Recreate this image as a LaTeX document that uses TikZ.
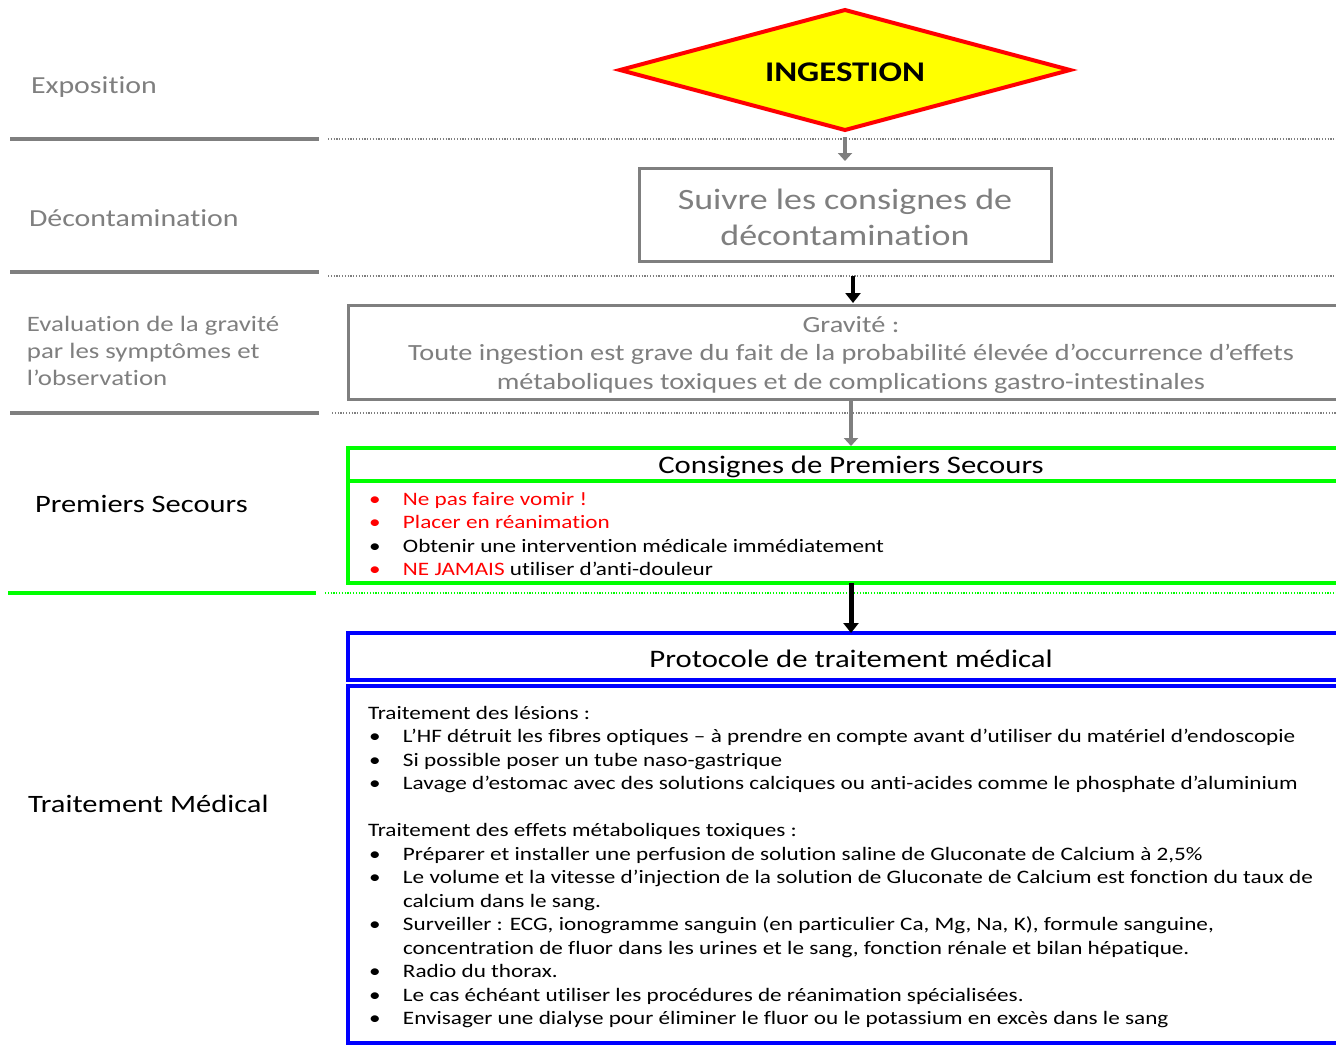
\documentclass[tikz,border=0pt]{standalone}
\usepackage{fontspec}
\setmainfont{Carlito}[FakeStretch=1.22, Ligatures={TeX,NoCommon}]
\usetikzlibrary{shapes.geometric,arrows.meta}
\definecolor{lgray}{RGB}{127,127,127}
\definecolor{lgreen}{RGB}{0,255,0}
\definecolor{lblue}{RGB}{0,0,255}
\definecolor{lred}{RGB}{255,0,0}
\definecolor{lyellow}{RGB}{255,255,0}
\newcommand{\bul}{\makebox[35pt][l]{\hspace{1pt}•}}
\newcommand{\cont}{\hspace*{35pt}}
\tikzset{
  x=1pt, y=-1pt,
  every node/.style={inner sep=0pt, outer sep=0pt, font=\fontsize{19}{23.5}\selectfont},
  sepline/.style={line width=4pt, lgray},
  dotline/.style={line width=1.1pt, lgray, dash pattern=on 1.2pt off 1.6pt},
  graybox/.style={draw=lgray, line width=3pt, rectangle},
  greenbox/.style={draw=lgreen, line width=3.5pt, rectangle},
  bluebox/.style={draw=lblue, line width=3.5pt, rectangle},
  rowlabel/.style={anchor=west, align=left},
  grayarrow/.style={lgray, line width=4pt, -{Triangle[width=14pt,length=8pt]}},
  blackarrow/.style={black, line width=4pt, -{Triangle[width=15pt,length=10pt]}},
}
\begin{document}
\begin{tikzpicture}
\useasboundingbox (0,0) rectangle (1336,1053);
\clip (0,0) rectangle (1336,1053);
\fill[white] (0,0) rectangle (1336,1053);

% row separators, left part solid, right part dotted
\draw[sepline] (10,139) -- (319,139);
\draw[sepline] (10,272) -- (319,272);
\draw[sepline] (10,413) -- (319,413);
\draw[sepline, lgreen] (8,593) -- (316,593);
\draw[dotline] (328,139) -- (1336,139);
\draw[dotline] (328,276) -- (1336,276);
\draw[dotline] (332,413) -- (1336,413);
\draw[dotline, lgreen] (325,593) -- (1336,593);

% row labels
\node[rowlabel, lgray, font=\fontsize{24.5}{27}\selectfont] (lexpo) at (31,87) {Exposition};
\node[rowlabel, lgray, font=\fontsize{24.5}{27}\selectfont] (ldeco) at (29,218) {Décontamination};
\node[rowlabel, lgray, font=\fontsize{22}{27}\selectfont] (leval) at (27,351) {Evaluation de la gravité\\par les symptômes et\\l’observation};
\node[rowlabel, font=\fontsize{25}{29}\selectfont] (lps) at (35,504) {Premiers Secours};
\node[rowlabel, font=\fontsize{25}{29}\selectfont] (ltm) at (28,804) {Traitement Médical};

% exposure
\node[diamond, aspect=3.75, minimum width=450pt, minimum height=120pt, draw=lred, fill=lyellow, line width=4pt] (ing) at (845,70) {};
\node[font=\fontsize{28.5}{32}\bfseries] (ingt) at (845,72) {INGESTION};

% decontamination
\node[graybox, minimum width=412pt, minimum height=93pt] (box1) at (845,214.5) {};
\node[lgray, align=center, font=\fontsize{29.5}{36}\selectfont] (box1t) at (845,217) {Suivre les consignes de\\décontamination};

% severity
\node[graybox, minimum width=1006pt, minimum height=94pt] (grav) at (851,352) {};
\node[lgray, align=center, font=\fontsize{23.2}{28.5}\selectfont] (gravt) at (851,355) {Gravité :\\Toute ingestion est grave du fait de la probabilité élevée d’occurrence d’effets\\métaboliques toxiques et de complications gastro-intestinales};

% first aid
\node[greenbox, minimum width=1006pt, minimum height=33pt] (psh) at (851,464.5) {};
\node[font=\fontsize{25.2}{29}\selectfont] (psht) at (851,467) {Consignes de Premiers Secours};
\node[greenbox, minimum width=1006pt, minimum height=102pt] (psb) at (851,532) {};
\node[anchor=north west, align=left] (pslist) at (368,492) {%
\textcolor{lred}{\bul Ne pas faire vomir !}\\
\textcolor{lred}{\bul Placer en réanimation}\\
\bul Obtenir une intervention médicale immédiatement\\
\textcolor{lred}{\bul NE JAMAIS} utiliser d’anti-douleur};

% medical treatment
\node[bluebox, minimum width=1006pt, minimum height=47pt] (tmh) at (851,656.5) {};
\node[font=\fontsize{25.2}{29}\selectfont] (tmht) at (851,659) {Protocole de traitement médical};
\node[bluebox, minimum width=1006pt, minimum height=357pt] (tmb) at (851,864.5) {};
\node[anchor=north west, align=left] (tmlist) at (368,706) {%
Traitement des lésions :\\
\bul L’HF détruit les fibres optiques – à prendre en compte avant d’utiliser du matériel d’endoscopie\\
\bul Si possible poser un tube naso-gastrique\\
\bul Lavage d’estomac avec des solutions calciques ou anti-acides comme le phosphate d’aluminium\\
\mbox{}\\
Traitement des effets métaboliques toxiques :\\
\bul Préparer et installer une perfusion de solution saline de Gluconate de Calcium à 2,5\%\\
\bul Le volume et la vitesse d’injection de la solution de Gluconate de Calcium est fonction du taux de\\
\cont calcium dans le sang.\\
\bul Surveiller : ECG, ionogramme sanguin (en particulier Ca, Mg, Na, K), formule sanguine,\\
\cont concentration de fluor dans les urines et le sang, fonction rénale et bilan hépatique.\\
\bul Radio du thorax.\\
\bul Le cas échéant utiliser les procédures de réanimation spécialisées.\\
\bul Envisager une dialyse pour éliminer le fluor ou le potassium en excès dans le sang};

% connectors
\draw[grayarrow, shorten <=7pt, shorten >=7pt] (ing.south) -- (box1.north);
\draw[blackarrow, shorten >=2pt] ([xshift=8pt, yshift=-15pt]box1.south) -- ([xshift=2pt]grav.north);
\draw[grayarrow, shorten >=2pt] (grav.south) -- (psh.north);
\draw[blackarrow, line width=5pt] (psb.south) -- (tmh.north);
\end{tikzpicture}
\end{document}
